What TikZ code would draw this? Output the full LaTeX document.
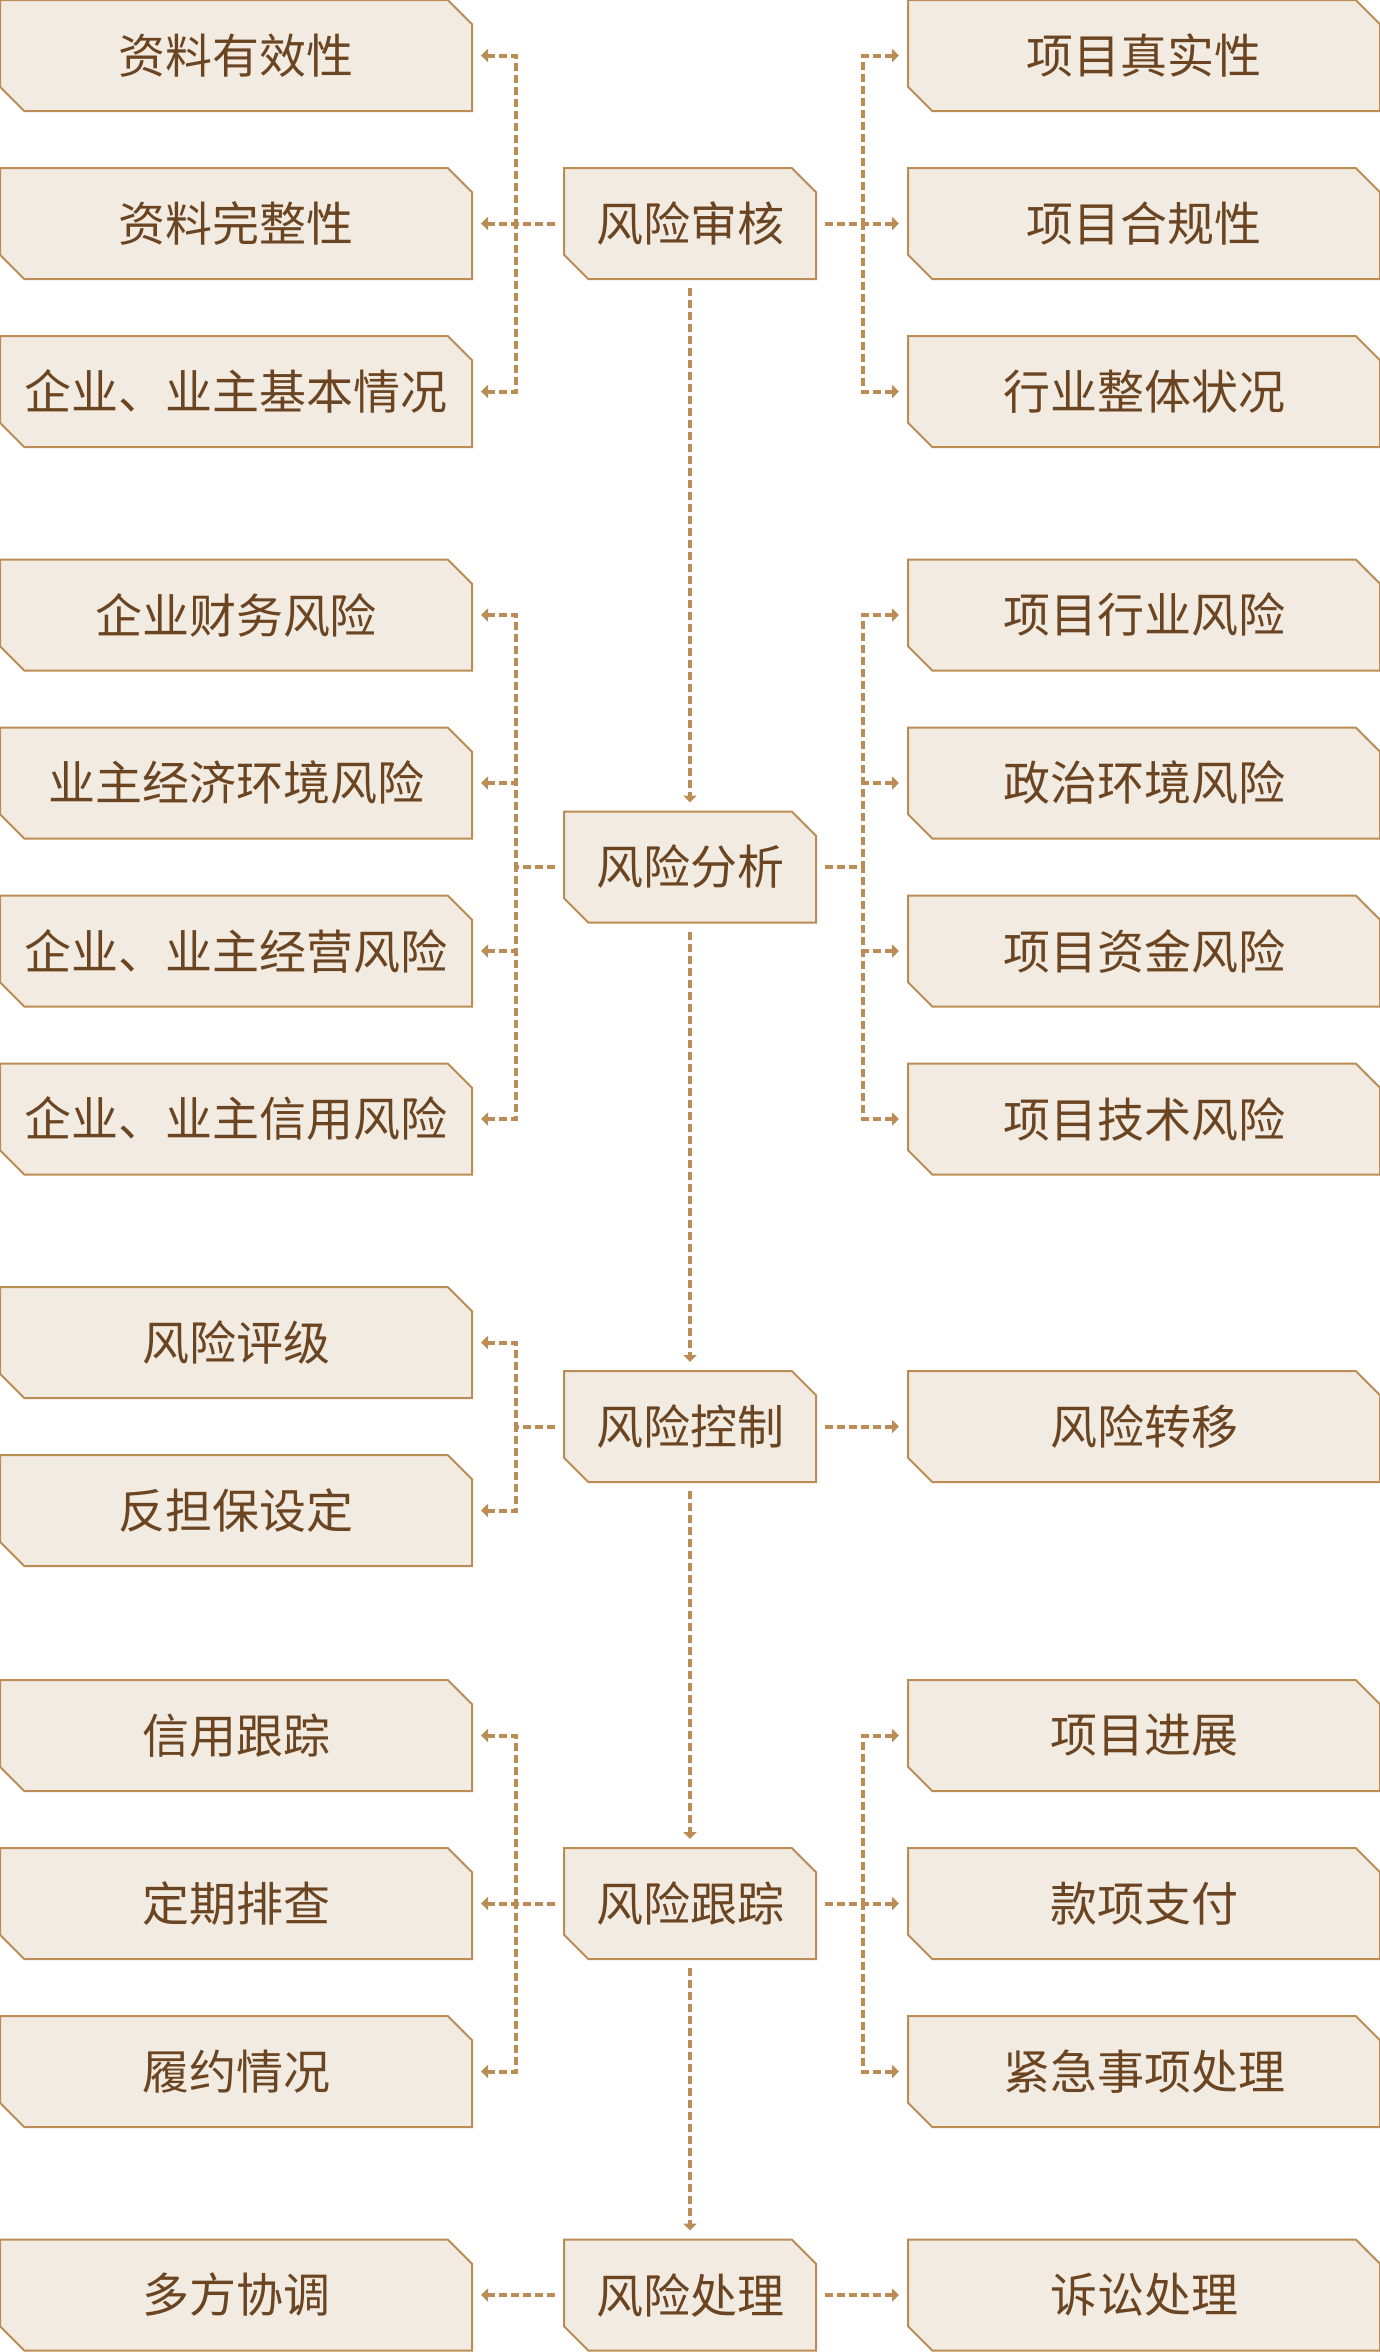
\documentclass[tikz,border=0pt]{standalone}
\usepackage{fontspec}
\setmainfont{Noto Sans CJK SC}
\usetikzlibrary{shapes.misc,arrows.meta}
\definecolor{boxfill}{HTML}{F2EBE1}
\definecolor{boxline}{HTML}{BC8C56}
\definecolor{boxtext}{HTML}{6B4521}
\tikzset{
  item/.style={chamfered rectangle, chamfered rectangle corners={north east,south west},
    chamfered rectangle xsep=8.5pt, draw=boxline, fill=boxfill, line width=1pt,
    inner sep=0pt, minimum width=236pt, minimum height=55.5pt, text=boxtext,
    font=\fontsize{23.5}{28}\selectfont},
  stage/.style={item, minimum width=126pt},
  link/.style={draw=boxline, line width=2pt, dash pattern=on 4pt off 2pt,
    shorten <=4pt, shorten >=4pt, -{Triangle[length=3.5pt,width=6.5pt]}}
}
\begin{document}
\begin{tikzpicture}[x=0.5pt,y=-0.5pt]
  \useasboundingbox (0,0) rectangle (1380,2352);
  % stages
  \foreach \n/\y/\t in {shen/223.5/风险审核, fenxi/867/风险分析, kongzhi/1426.5/风险控制,
      genzong/1903.5/风险跟踪, chuli/2295/风险处理}
    \node[stage] (\n) at (690,\y) {\t};
  % left items
  \foreach \n/\y/\t in {a1/55.5/资料有效性, a2/223.5/资料完整性, a3/391.5/企业、业主基本情况,
      b1/615/企业财务风险, b2/783/业主经济环境风险, b3/951/企业、业主经营风险, b4/1119/企业、业主信用风险,
      c1/1342.5/风险评级, c2/1510.5/反担保设定,
      d1/1735.5/信用跟踪, d2/1903.5/定期排查, d3/2071.5/履约情况,
      e1/2295/多方协调}
    \node[item] (\n) at (236,\y) {\t};
  % right items
  \foreach \n/\y/\t in {p1/55.5/项目真实性, p2/223.5/项目合规性, p3/391.5/行业整体状况,
      q1/615/项目行业风险, q2/783/政治环境风险, q3/951/项目资金风险, q4/1119/项目技术风险,
      s1/1426.5/风险转移,
      t1/1735.5/项目进展, t2/1903.5/款项支付, t3/2071.5/紧急事项处理,
      u1/2295/诉讼处理}
    \node[item] (\n) at (1144,\y) {\t};
  % main flow
  \foreach \a/\b in {shen/fenxi, fenxi/kongzhi, kongzhi/genzong, genzong/chuli}
    \draw[link] (\a.south) -- (\b.north);
  % branches
  \foreach \a/\b in {shen/a1, shen/a2, shen/a3, fenxi/b1, fenxi/b2, fenxi/b3, fenxi/b4,
      kongzhi/c1, kongzhi/c2, genzong/d1, genzong/d2, genzong/d3, chuli/e1}
    \draw[link] (\a.west) -- ++(-47,0) |- (\b.east);
  \foreach \a/\b in {shen/p1, shen/p2, shen/p3, fenxi/q1, fenxi/q2, fenxi/q3, fenxi/q4,
      kongzhi/s1, genzong/t1, genzong/t2, genzong/t3, chuli/u1}
    \draw[link] (\a.east) -- ++(46,0) |- (\b.west);
\end{tikzpicture}
\end{document}
